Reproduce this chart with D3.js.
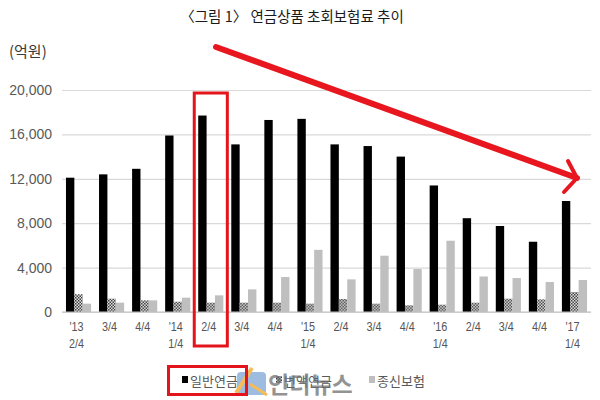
<!DOCTYPE html>
<html>
<head>
<meta charset="utf-8">
<script src="https://cdn.jsdelivr.net/npm/d3@7/dist/d3.min.js"></script>
<style>
  html, body { margin: 0; padding: 0; background: #fff; }
  svg { display: block; }
</style>
</head>
<body>
<div id="chart"></div>
<script>
const categories = ["'13\n2/4", "3/4", "4/4", "'14\n1/4", "2/4", "3/4", "4/4", "'15\n1/4", "2/4", "3/4", "4/4", "'16\n1/4", "2/4", "3/4", "4/4", "'17\n1/4"];
const seriesNames = ["일반연금", "변액연금", "종신보험"];
const generalAnnuity = [12100, 12400, 12900, 15900, 17700, 15100, 17300, 17400, 15100, 14950, 14000, 11400, 8450, 7750, 6330, 10000];
const variableAnnuity = [1600, 1200, 1050, 930, 840, 840, 840, 750, 1170, 750, 600, 660, 840, 1200, 1140, 1800];
const wholeLife = [750, 840, 1050, 1290, 1500, 2040, 3150, 5600, 2940, 5070, 3870, 6420, 3200, 3060, 2700, 2880];
const yTicks = [0, 4000, 8000, 12000, 16000, 20000];
const title = "〈그림 1〉 연금상품 초회보험료 추이";
const unitLabel = "(억원)";
const highlightIndex = 4;

const W = 600, H = 400;
const svg = d3.select("#chart").append("svg").attr("width", W).attr("height", H)
  .style("font-family", "'Liberation Sans', Arial, 'Noto Sans CJK KR', sans-serif");

const defs = svg.append("defs");
const pat = defs.append("pattern").attr("id", "checker").attr("patternUnits", "userSpaceOnUse")
  .attr("width", 3).attr("height", 3);
pat.append("rect").attr("width", 3).attr("height", 3).attr("fill", "#e6e6e6");
pat.append("rect").attr("x", 0).attr("y", 0).attr("width", 1.5).attr("height", 1.5).attr("fill", "#3a3a3a");
pat.append("rect").attr("x", 1.5).attr("y", 1.5).attr("width", 1.5).attr("height", 1.5).attr("fill", "#3a3a3a");

const plotL = 62, plotR = 591, plotT = 90, plotB = 312;
const y = d3.scaleLinear().domain([0, 20000]).range([plotB, plotT]);
const x0 = d3.scaleBand().domain(d3.range(categories.length)).range([plotL, plotR]).paddingInner(0.24).paddingOuter(0.12);
const x1 = d3.scaleBand().domain(d3.range(3)).range([0, x0.bandwidth()]);
const fills = ["#000000", "url(#checker)", "#bfbfbf"];
const data = [generalAnnuity, variableAnnuity, wholeLife];

// title
svg.append("text").attr("x", 292).attr("y", 22).attr("text-anchor", "middle")
  .attr("font-size", 14.5).attr("fill", "#1a1a1a").attr("font-family", "'Noto Sans CJK KR', sans-serif").text(title);
svg.append("text").attr("x", 9).attr("y", 57).attr("font-size", 15).attr("fill", "#3a3a3a")
  .attr("font-family", "'Noto Sans CJK KR', sans-serif").text(unitLabel);

// grid
const yAxis = d3.axisLeft(y).tickValues(yTicks).tickSize(-(plotR - plotL)).tickFormat(d3.format(","));
const gy = svg.append("g").attr("transform", `translate(${plotL},0)`).call(yAxis);
gy.select(".domain").remove();
gy.selectAll(".tick line").attr("stroke", "#d9d9d9").attr("stroke-width", 1.2);
gy.selectAll(".tick text").attr("x", -10).attr("font-size", 14).attr("fill", "#595959")
  .attr("font-family", "'Liberation Sans', Arial, sans-serif");

// bars
const groups = svg.append("g").selectAll("g").data(categories).join("g")
  .attr("transform", (d, i) => `translate(${x0(i)},0)`);
groups.selectAll("rect").data((d, i) => data.map((s, k) => ({ k, v: s[i] }))).join("rect")
  .attr("x", d => x1(d.k)).attr("width", x1.bandwidth())
  .attr("y", d => y(d.v)).attr("height", d => y(0) - y(d.v))
  .attr("fill", d => fills[d.k]);

// baseline
svg.append("line").attr("x1", plotL).attr("x2", plotR).attr("y1", y(0)).attr("y2", y(0))
  .attr("stroke", "#bfbfbf").attr("stroke-width", 1.2);

// x labels
const xl = svg.append("g").selectAll("text").data(categories).join("text")
  .attr("text-anchor", "middle").attr("font-size", 13.5).attr("fill", "#555")
  .attr("transform", (d, i) => `translate(${x0(i) + x0.bandwidth() / 2 - 2},0) scale(0.8,1)`);
xl.each(function(d) {
  const lines = d.split("\n");
  d3.select(this).selectAll("tspan").data(lines).join("tspan")
    .attr("x", 0).attr("y", (l, j) => 331 + j * 17).text(l => l);
});

// legend
const legX = [182, 276, 369];
const leg = svg.append("g").selectAll("g").data(seriesNames).join("g")
  .attr("transform", (d, i) => `translate(${legX[i]},0)`);
leg.append("rect").attr("x", 0).attr("y", 376).attr("width", 6).attr("height", 7).attr("fill", (d, i) => fills[i]);
leg.append("text").attr("x", 8).attr("y", 386).attr("font-size", 13).attr("fill", "#595959")
  .attr("font-family", "'Noto Sans CJK KR', sans-serif").text(d => d);

// watermark
const wm = svg.append("g").attr("opacity", 0.75);
wm.append("path").attr("d", "M241,372 L262,372 Q266,372 266,376 L266,395 L241,395 Q237,395 237,391 L237,376 Q237,372 241,372 Z")
  .attr("fill", "#7ea6d6");
wm.append("path").attr("d", "M252,368 L236,393").attr("stroke", "#f5a623").attr("stroke-width", 4).attr("fill", "none");
wm.append("path").attr("d", "M250,384 L267,395").attr("stroke", "#f5a623").attr("stroke-width", 3).attr("fill", "none");
wm.append("text").attr("x", 268).attr("y", 393).attr("font-size", 23).attr("font-weight", "bold")
  .attr("fill", "#6f6f6f").attr("font-family", "'Noto Sans CJK KR', sans-serif").text("인더뉴스");

// red annotations
const step = x0.step();
const hx = plotL + step * highlightIndex;
svg.append("rect").attr("x", hx).attr("y", 93).attr("width", step).attr("height", 253)
  .attr("fill", "none").attr("stroke", "#e3141c").attr("stroke-width", 3);
svg.append("rect").attr("x", 168.5).attr("y", 366.5).attr("width", 78).attr("height", 28)
  .attr("fill", "none").attr("stroke", "#e3141c").attr("stroke-width", 3);
svg.append("path").attr("d", "M216,47 L577,178").attr("stroke", "#e8171f").attr("stroke-width", 6)
  .attr("stroke-linecap", "round").attr("fill", "none");
svg.append("path").attr("d", "M568,161 L577,178 L564,192").attr("stroke", "#e8171f").attr("stroke-width", 4)
  .attr("stroke-linecap", "round").attr("stroke-linejoin", "round").attr("fill", "none");
</script>
</body>
</html>
